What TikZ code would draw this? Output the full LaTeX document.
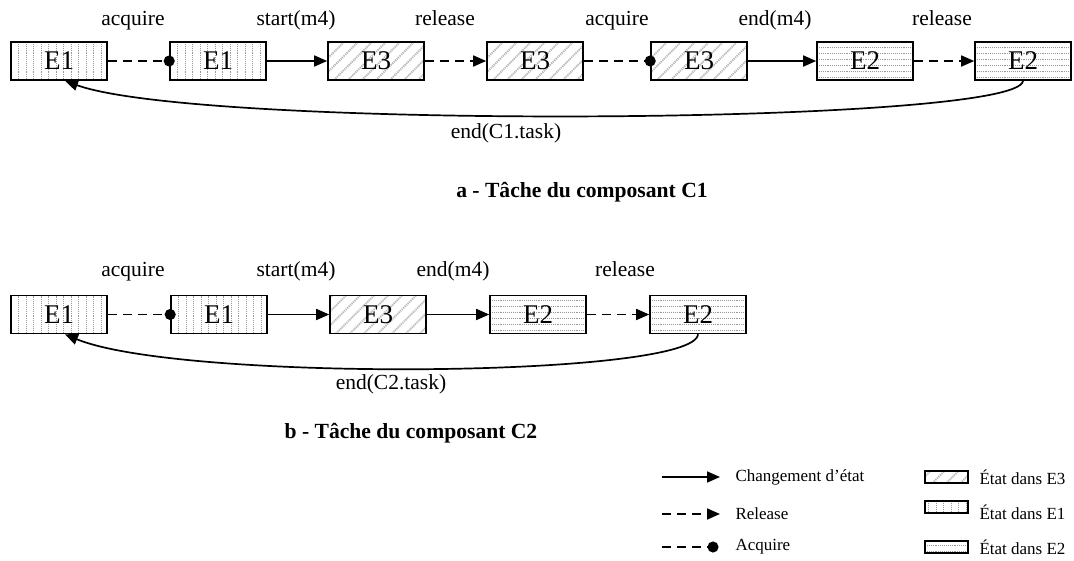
\documentclass[tikz,border=0pt]{standalone}
\usepackage{fontspec}
\setmainfont{Liberation Serif}
\usetikzlibrary{arrows.meta}
\begin{document}
\begin{tikzpicture}[x=1pt,y=-1pt,
  pat/.style={gray!80, line width=0.9pt, densely dotted},
  stbox/.style={draw, line width=1.6pt, minimum width=96pt, minimum height=38pt, inner sep=0pt,
    font=\fontsize{27}{29}\selectfont},
  eone/.style={path picture={
    \foreach \i in {-48,-40.5,...,48}
      \draw[pat] ([xshift=\i pt]path picture bounding box.north) -- ([xshift=\i pt]path picture bounding box.south);}},
  etwo/.style={path picture={
    \foreach \i in {-16,-10,...,16}
      \draw[pat] ([yshift=\i pt]path picture bounding box.west) -- ([yshift=\i pt]path picture bounding box.east);}},
  ethree/.style={path picture={
    \foreach \i in {-112,-98,...,112}
      \draw[gray!55, line width=2pt, dash pattern=on 1.2pt off 0.9pt]
        ([xshift=\i pt]path picture bounding box.south) -- ++(50pt,50pt);}},
  lbl/.style={font=\fontsize{21.5}{23}\selectfont, anchor=base},
  captxt/.style={font=\fontsize{21.6}{24}\selectfont\bfseries},
  leg/.style={font=\fontsize{17}{19}\selectfont, anchor=west},
  chg/.style={line width=1.7pt, -{Triangle[length=13pt,width=11pt]}},
  rel/.style={line width=1.7pt, dash pattern=on 9pt off 6pt, -{Triangle[length=13pt,width=11pt]}},
  acq/.style={line width=1.7pt, dash pattern=on 9pt off 6pt, shorten >=-5.5pt, -{Circle[length=11pt]}},
  lbox/.style={draw, line width=1.2pt, minimum width=43pt, minimum height=12pt, inner sep=0pt},
]
\useasboundingbox (0,0) rectangle (1074,560);

% ---- row a ----
\node[stbox, eone]   (a1) at (59,61)   {E1};
\node[stbox, eone]   (a2) at (218,61)  {E1};
\node[stbox, ethree] (a3) at (376,61)  {E3};
\node[stbox, ethree] (a4) at (535,61)  {E3};
\node[stbox, ethree] (a5) at (699,61)  {E3};
\node[stbox, etwo]   (a6) at (865,61)  {E2};
\node[stbox, etwo]   (a7) at (1023,61) {E2};

\draw[acq] (a1) -- (a2);
\draw[chg] (a2) -- (a3);
\draw[rel] (a3) -- (a4);
\draw[acq] (a4) -- (a5);
\draw[chg] (a5) -- (a6);
\draw[rel] (a6) -- (a7);
\draw[chg] (a7.south) .. controls (1020,125) and (200,130) .. ([xshift=6pt]a1.south);

\node[lbl] (la1) at (133,25) {acquire};
\node[lbl] (la2) at (296,25) {start(m4)};
\node[lbl] (la3) at (445,25) {release};
\node[lbl] (la4) at (617,25) {acquire};
\node[lbl] (la5) at (775,25) {end(m4)};
\node[lbl] (la6) at (942,25) {release};
\node[lbl] (la7) at (506,138) {end(C1.task)};

\node[captxt] (capa) at (582,192) {a - Tâche du composant C1};

% ---- row b ----
\node[stbox, eone]   (b1) at (59,314.5)  {E1};
\node[stbox, eone]   (b2) at (219,314.5) {E1};
\node[stbox, ethree] (b3) at (378,314.5) {E3};
\node[stbox, etwo]   (b4) at (538,314.5) {E2};
\node[stbox, etwo]   (b5) at (698,314.5) {E2};

\draw[acq] (b1) -- (b2);
\draw[chg] (b2) -- (b3);
\draw[chg] (b3) -- (b4);
\draw[rel] (b4) -- (b5);
\draw[chg] (b5.south) .. controls (695,378) and (180,382) .. ([xshift=6pt]b1.south);

\node[lbl] (lb1) at (133,276) {acquire};
\node[lbl] (lb2) at (296,276) {start(m4)};
\node[lbl] (lb3) at (453,276) {end(m4)};
\node[lbl] (lb4) at (625,276) {release};
\node[lbl] (lb5) at (391,389) {end(C2.task)};

\node[captxt] (capb) at (411,433) {b - Tâche du composant C2};

% ---- legend ----
\coordinate (k1a) at (662,477);
\coordinate (k1b) at (720,477);
\coordinate (k2a) at (662,514);
\coordinate (k2b) at (720,514);
\coordinate (k3a) at (662,547);
\coordinate (k3b) at (713,547);
\draw[chg] (k1a) -- (k1b);
\draw[rel] (k2a) -- (k2b);
\draw[acq] (k3a) -- (k3b);
\node[leg] (t1) at (732,477) {Changement d’état};
\node[leg] (t2) at (732,514) {Release};
\node[leg] (t3) at (732,547) {Acquire};

\node[lbox, ethree] (q1) at (946.5,477) {};
\node[lbox, eone]   (q2) at (946.5,507) {};
\node[lbox, etwo]   (q3) at (946.5,547) {};
\node[leg] (u1) at (976,477) {État dans E3};
\node[leg] (u2) at (976,512) {État dans E1};
\node[leg] (u3) at (976,547) {État dans E2};
\end{tikzpicture}
\end{document}
